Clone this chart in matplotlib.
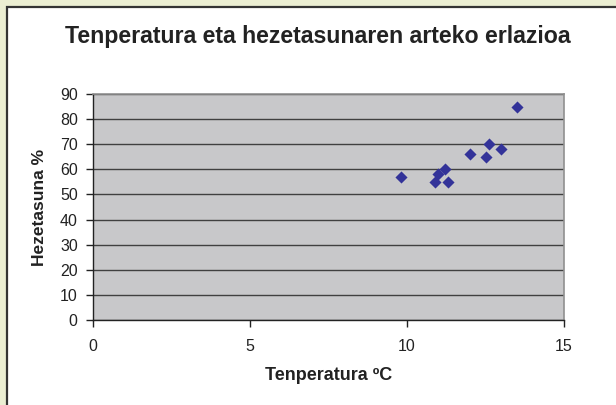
import matplotlib.pyplot as plt
from matplotlib.patches import Rectangle

# Temperature (ºC) vs humidity (%) readings
tenperatura = [13.5, 12.6, 13.0, 12.0, 12.5, 9.8, 11.2, 11.0, 10.9, 11.3]
hezetasuna = [85, 70, 68, 66, 65, 57, 60, 58, 55, 55]

x_ticks = [0, 5, 10, 15]
y_ticks = list(range(0, 91, 10))

plt.rcParams['font.family'] = ['Liberation Sans', 'DejaVu Sans']

fig = plt.figure(figsize=(6.16, 4.05), dpi=100)
fig.patch.set_facecolor('#EBEED2')

# white chart box with dark border on left/top
box = Rectangle((7 / 616, -0.01), 1.0, 1 - 7 / 405 + 0.01, transform=fig.transFigure,
                facecolor='white', edgecolor='#333333', linewidth=1.6, zorder=-5)
fig.patches.append(box)

ax = fig.add_axes([93 / 616, 85 / 405, (564 - 93) / 616, (320 - 94) / 405])
ax.set_facecolor('#C8C8CA')

ax.scatter(tenperatura, hezetasuna, marker='D', s=38, color='#333399', zorder=3, linewidths=0)

ax.set_xlim(0, 15)
ax.set_ylim(0, 90)
ax.set_xticks(x_ticks)
ax.set_yticks(y_ticks)
ax.tick_params(labelsize=11.5, colors='#222222', length=5, width=1, pad=6)
ax.tick_params(axis='x', pad=9)

ax.grid(axis='y', color='#404040', linewidth=1)
ax.set_axisbelow(True)
for side in ['top', 'right']:
    ax.spines[side].set_color('#909090')
    ax.spines[side].set_linewidth(1.2)
for side in ['left', 'bottom']:
    ax.spines[side].set_color('#222222')
    ax.spines[side].set_linewidth(1)

ax.set_xlabel('Tenperatura ºC', fontsize=13, fontweight='bold', color='#222222', labelpad=9)
ax.set_ylabel('Hezetasuna %', fontsize=12.5, fontweight='bold', color='#222222', labelpad=9)
fig.text(318 / 616, 1 - 37 / 405, 'Tenperatura eta hezetasunaren arteko erlazioa',
         ha='center', va='center', fontsize=16.7, fontweight='bold', color='#222222')

fig.savefig('out.png', dpi=100, facecolor=fig.get_facecolor())
